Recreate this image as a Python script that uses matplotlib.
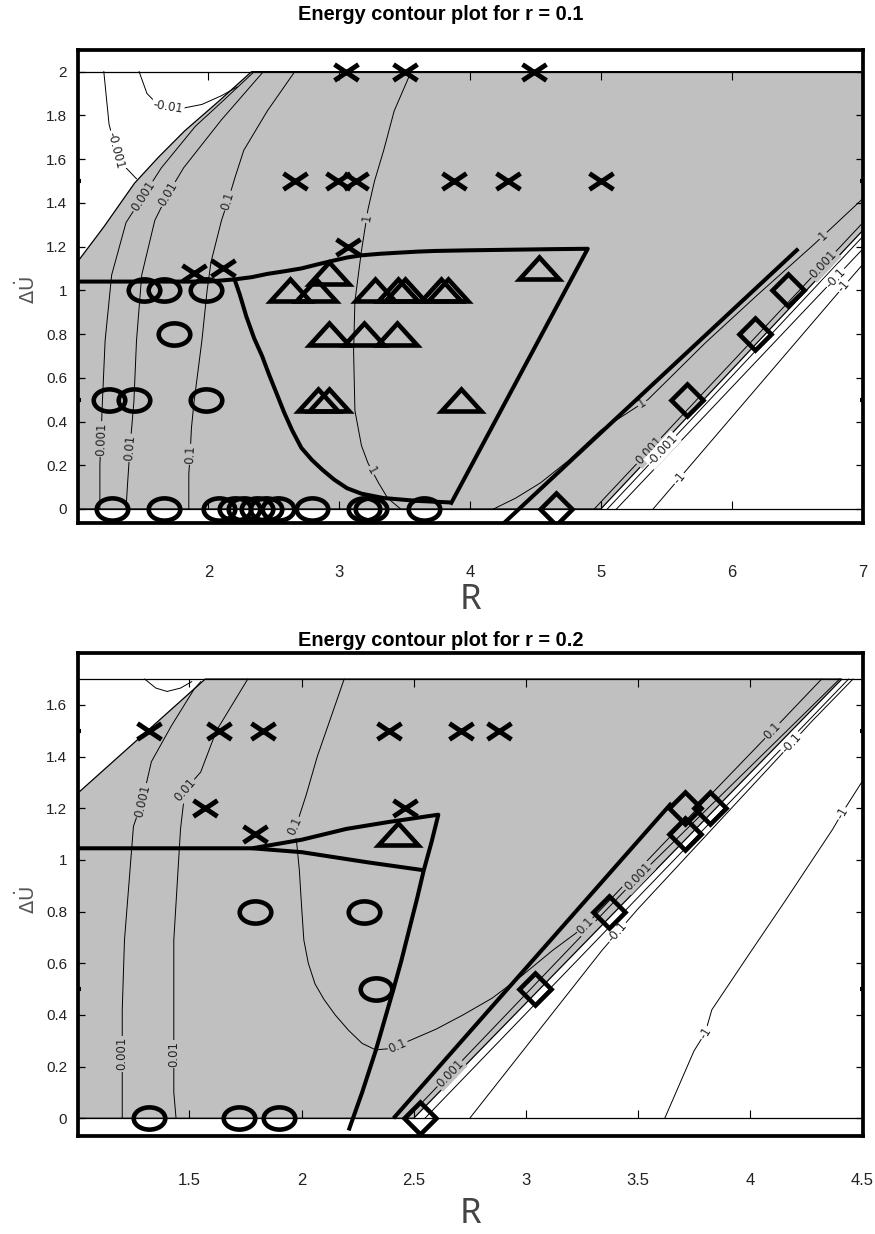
import matplotlib.pyplot as plt
import numpy as np
from matplotlib.markers import MarkerStyle
from matplotlib.path import Path
from matplotlib.transforms import Affine2D

plt.rcParams['font.family'] = ['Liberation Sans', 'DejaVu Sans']

GRAY = '#c0c0c0'

# ---------------- panel 1 : r = 0.1 ----------------
r1_title = 'Energy contour plot for r = 0.1'
r1_xlim = (1.005, 7.005)
r1_ylim = (-0.064, 2.099)
r1_ytop = 2.0
r1_xticks = [2, 3, 4, 5, 6, 7]
r1_xdots = [2, 4, 6]
r1_yticks = [0, 0.2, 0.4, 0.6, 0.8, 1.0, 1.2, 1.4, 1.6, 1.8, 2.0]

# grey region outline
r1_region_x = [1.005, 5.0, 7.005, 7.005, 2.33, 2.07, 1.82, 1.62, 1.435, 1.2, 1.005]
r1_region_y = [0.0, 0.0, 1.275, 2.0, 2.0, 1.86, 1.73, 1.61, 1.49, 1.29, 1.135]

# contour lines (value, points, label positions)
r1_c0001a_x = [2.35, 2.10, 1.90, 1.64, 1.50, 1.37, 1.26, 1.21, 1.19, 1.17, 1.17]
r1_c0001a_y = [2.0, 1.86, 1.75, 1.56, 1.43, 1.31, 1.07, 0.77, 0.50, 0.20, 0.0]
r1_c0001a_lab = [(1.50, 1.43), (1.18, 0.32)]
r1_c001_x = [2.42, 2.10, 1.81, 1.69, 1.59, 1.49, 1.45, 1.43, 1.40, 1.38, 1.37]
r1_c001_y = [2.0, 1.78, 1.56, 1.44, 1.32, 1.07, 0.77, 0.49, 0.28, 0.10, 0.0]
r1_c001_lab = [(1.69, 1.44), (1.40, 0.28)]
r1_c01_x = [2.66, 2.45, 2.27, 2.20, 2.15, 2.10, 2.02, 1.99, 1.95, 1.89, 1.87, 1.86, 1.85, 1.85]
r1_c01_y = [2.0, 1.82, 1.64, 1.51, 1.41, 1.32, 1.13, 1.0, 0.77, 0.49, 0.37, 0.25, 0.16, 0.0]
r1_c01_lab = [(2.15, 1.41), (1.86, 0.25)]
r1_c1a_x = [3.55, 3.42, 3.34, 3.27, 3.22, 3.17, 3.12, 3.11, 3.12, 3.17, 3.22, 3.30, 3.37, 3.47]
r1_c1a_y = [2.0, 1.82, 1.64, 1.50, 1.37, 1.18, 0.95, 0.72, 0.45, 0.29, 0.21, 0.12, 0.05, 0.0]
r1_c1a_lab = [(3.21, 1.33), (3.26, 0.18)]
r1_c1b_x = [4.18, 4.35, 4.54, 4.75, 5.0, 5.36, 5.8, 6.2, 6.63, 7.005]
r1_c1b_y = [0.0, 0.05, 0.12, 0.22, 0.36, 0.50, 0.76, 0.98, 1.21, 1.42]
r1_c1b_lab = [(5.33, 0.47), (6.70, 1.25)]
r1_cm0001a_x = [1.20, 1.22, 1.24, 1.30, 1.37, 1.45]
r1_cm0001a_y = [2.0, 1.88, 1.76, 1.62, 1.56, 1.51]
r1_cm0001a_lab = [(1.28, 1.64)]
r1_cm001_x = [1.47, 1.53, 1.62, 1.78, 1.95, 2.10, 2.22]
r1_cm001_y = [2.0, 1.90, 1.845, 1.83, 1.85, 1.89, 1.93]
r1_cm001_lab = [(1.69, 1.83)]
r1_c0001b_x = [4.95, 7.005]
r1_c0001b_y = [0.0, 1.31]
r1_c0001b_lab = [(5.36, 0.27), (6.70, 1.12)]
r1_cm0001b_x = [5.05, 7.005]
r1_cm0001b_y = [0.0, 1.247]
r1_cm0001b_lab = [(5.47, 0.27)]
r1_cm01_x = [5.12, 7.005]
r1_cm01_y = [0.0, 1.19]
r1_cm01_lab = [(6.79, 1.06)]
r1_cm1_x = [5.40, 6.76, 7.005]
r1_cm1_y = [0.0, 0.95, 1.12]
r1_cm1_lab = [(5.60, 0.14), (6.85, 1.02)]

# thick boundary lines
r1_t1_x = [1.005, 2.0, 2.2, 2.33, 2.45, 2.58, 2.71, 2.83, 2.95, 3.06, 3.17, 3.31, 3.45,
           3.6, 3.73, 4.0, 4.24, 4.6, 4.90, 3.85]
r1_t1_y = [1.04, 1.04, 1.05, 1.06, 1.075, 1.087, 1.10, 1.118, 1.135, 1.15, 1.16, 1.167,
           1.172, 1.177, 1.18, 1.183, 1.185, 1.188, 1.19, 0.02]
r1_t2_x = [2.2, 2.24, 2.29, 2.35, 2.41, 2.46, 2.52, 2.58, 2.64, 2.71, 2.79, 2.87, 2.96,
           3.06, 3.17, 3.34, 3.6, 3.85]
r1_t2_y = [1.05, 0.98, 0.88, 0.78, 0.70, 0.62, 0.53, 0.44, 0.36, 0.28, 0.225, 0.18, 0.135,
           0.095, 0.07, 0.05, 0.037, 0.03]
r1_t3_x = [4.26, 6.51]
r1_t3_y = [-0.064, 1.19]

# markers
r1_cross_x = [3.05, 3.50, 4.49, 2.66, 2.99, 3.13, 3.88, 4.29, 5.00, 3.07, 1.89, 2.11]
r1_cross_y = [2.0, 2.0, 2.0, 1.5, 1.5, 1.5, 1.5, 1.5, 1.5, 1.2, 1.08, 1.10]
r1_circ_x = [1.51, 1.66, 1.98, 1.74, 1.24, 1.43, 1.98, 1.26, 1.66, 2.08, 2.20, 2.27,
             2.37, 2.44, 2.53, 2.79, 3.19, 3.24, 3.65]
r1_circ_y = [1.0, 1.0, 1.0, 0.8, 0.5, 0.5, 0.5, 0, 0, 0, 0, 0, 0, 0, 0, 0, 0, 0, 0]
r1_tri_x = [2.62, 2.82, 2.92, 3.27, 3.45, 3.50, 3.78, 3.83, 4.53, 2.92, 3.19, 3.44, 2.84, 2.92, 3.93]
r1_tri_y = [1.0, 1.0, 1.08, 1.0, 1.0, 1.0, 1.0, 1.0, 1.1, 0.8, 0.8, 0.8, 0.5, 0.5, 0.5]
r1_dia_x = [4.66, 5.66, 6.18, 6.43]
r1_dia_y = [0.0, 0.5, 0.8, 1.0]

# ---------------- panel 2 : r = 0.2 ----------------
r2_title = 'Energy contour plot for r = 0.2'
r2_xlim = (1.004, 4.503)
r2_ylim = (-0.0685, 1.802)
r2_ytop = 1.7
r2_xticks = [1.5, 2, 2.5, 3, 3.5, 4, 4.5]
r2_xdots = [2, 3, 4]
r2_yticks = [0, 0.2, 0.4, 0.6, 0.8, 1.0, 1.2, 1.4, 1.6]

r2_region_x = [1.004, 2.50, 4.41, 1.57, 1.004]
r2_region_y = [0.0, 0.0, 1.7, 1.7, 1.26]

r2_c0001a_x = [1.55, 1.52, 1.42, 1.33, 1.29, 1.25, 1.21, 1.20, 1.20, 1.20, 1.20]
r2_c0001a_y = [1.69, 1.66, 1.52, 1.38, 1.23, 1.13, 0.69, 0.42, 0.25, 0.12, 0.0]
r2_c0001a_lab = [(1.29, 1.23), (1.19, 0.25)]
r2_c001_x = [1.76, 1.62, 1.55, 1.48, 1.46, 1.43, 1.43, 1.43, 1.43, 1.44]
r2_c001_y = [1.70, 1.50, 1.34, 1.27, 1.12, 0.69, 0.35, 0.25, 0.10, 0.0]
r2_c001_lab = [(1.48, 1.27), (1.43, 0.25)]
r2_c01_x = [2.19, 2.13, 2.07, 2.02, 1.99, 1.97, 1.98, 1.99, 2.00, 2.01, 2.03, 2.06, 2.10,
            2.15, 2.21, 2.27, 2.33, 2.40, 2.48, 2.60, 2.72, 2.85, 2.98, 3.12, 3.26,
            3.60, 3.90, 4.10, 4.32]
r2_c01_y = [1.70, 1.55, 1.40, 1.25, 1.17, 1.13, 1.05, 0.96, 0.82, 0.69, 0.60, 0.52, 0.46,
            0.40, 0.34, 0.29, 0.265, 0.27, 0.30, 0.345, 0.40, 0.465, 0.55, 0.65, 0.74,
            1.05, 1.32, 1.50, 1.70]
r2_c01_lab = [(1.97, 1.13), (2.43, 0.28), (3.26, 0.75), (4.10, 1.50)]
r2_c0001b_x = [2.47, 3.50, 4.40]
r2_c0001b_y = [0.0, 0.934, 1.70]
r2_c0001b_lab = [(2.66, 0.174), (3.50, 0.934)]
r2_cm0001_x = [2.55, 4.44]
r2_cm0001_y = [0.0, 1.70]
r2_cm01_x = [2.75, 3.34, 3.50, 4.11, 4.28, 4.46]
r2_cm01_y = [0.0, 0.65, 0.81, 1.38, 1.54, 1.70]
r2_cm01_lab = [(3.41, 0.72), (4.19, 1.45)]
r2_cm1_x = [3.62, 3.75, 3.80, 3.83, 4.00, 4.16, 4.37, 4.41, 4.52]
r2_cm1_y = [0.0, 0.26, 0.33, 0.42, 0.64, 0.845, 1.12, 1.18, 1.33]
r2_cm1_lab = [(3.80, 0.33), (4.41, 1.18)]
r2_loop_x = [1.30, 1.35, 1.40, 1.46, 1.51]
r2_loop_y = [1.70, 1.665, 1.652, 1.665, 1.69]

r2_t1_x = [1.004, 1.5, 1.78, 2.0, 2.2, 2.39, 2.61, 2.58, 2.545, 2.515, 2.48, 2.445, 2.41,
           2.37, 2.33, 2.27, 2.21]
r2_t1_y = [1.045, 1.045, 1.045, 1.078, 1.12, 1.147, 1.175, 1.07, 0.96, 0.85, 0.73, 0.61,
           0.50, 0.38, 0.26, 0.10, -0.047]
r2_t2_x = [1.78, 2.0, 2.3, 2.545]
r2_t2_y = [1.045, 1.03, 0.99, 0.96]
r2_t3_x = [2.41, 3.65]
r2_t3_y = [0.0, 1.22]

r2_cross_x = [1.32, 1.63, 1.83, 2.39, 2.71, 2.88, 1.57, 2.46, 1.79]
r2_cross_y = [1.5, 1.5, 1.5, 1.5, 1.5, 1.5, 1.2, 1.2, 1.1]
r2_circ_x = [1.79, 2.28, 2.33, 1.32, 1.72, 1.90]
r2_circ_y = [0.8, 0.8, 0.5, 0.0, 0.0, 0.0]
r2_tri_x = [2.43]
r2_tri_y = [1.10]
r2_dia_x = [2.53, 3.04, 3.37, 3.71, 3.82, 3.71]
r2_dia_y = [0.0, 0.5, 0.8, 1.2, 1.2, 1.1]


def stretched(m, sx):
    return MarkerStyle(m, transform=Affine2D().scale(sx, 1.0))


def put_label(ax, xs, ys, x, y, text, region):
    # snap the label onto the line and turn it along the line
    P = ax.transData.transform(np.column_stack([xs, ys]))
    q = ax.transData.transform((x, y))
    best = None
    for k in range(len(P) - 1):
        a, b = P[k], P[k + 1]
        ab = b - a
        t = np.clip(np.dot(q - a, ab) / np.dot(ab, ab), 0, 1)
        p = a + t * ab
        d = np.hypot(*(q - p))
        if best is None or d < best[0]:
            best = (d, p, ab)
    _, p, ab = best
    ang = np.degrees(np.arctan2(ab[1], ab[0]))
    if ang > 90:
        ang -= 180
    elif ang <= -90:
        ang += 180
    xd, yd = ax.transData.inverted().transform(p)
    bg = GRAY if region.contains_point((xd, yd)) else 'white'
    ax.text(xd, yd, text, rotation=ang, rotation_mode='anchor', ha='center', va='center',
            fontsize=8.5, family='DejaVu Sans', color='#222222', zorder=1.6,
            bbox=dict(boxstyle='square,pad=0.1', fc=bg, ec='none'))


def draw_panel(ax, xlim, ylim, ytop, xticks, xdots, yticks, region_x, region_y,
               contours, thick, crosses, circles, triangles, diamonds, xpad):
    ax.set_xlim(*xlim)
    ax.set_ylim(*ylim)
    region = Path(np.column_stack([region_x, region_y]))
    ax.fill(region_x, region_y, facecolor=GRAY, edgecolor='k', lw=0.9, zorder=0)

    # inner frame with its own ticks
    ax.axhline(0, color='k', lw=0.9, zorder=1.5)
    ax.axhline(ytop, color='k', lw=0.9, zorder=1.5)
    tl = 8 / ax.bbox.height * (ylim[1] - ylim[0])
    ax.vlines(xticks, 0, tl, color='k', lw=0.8, zorder=1.5)
    ax.vlines(xticks, ytop - tl, ytop, color='k', lw=0.8, zorder=1.5)

    for xs, ys, txt, labs in contours:
        ax.plot(xs, ys, color='k', lw=0.7, zorder=1.2)
        for lx, ly in labs:
            put_label(ax, xs, ys, lx, ly, txt, region)

    for xs, ys in thick:
        ax.plot(xs, ys, color='k', lw=2.9, zorder=3, solid_joinstyle='round',
                solid_capstyle='butt')

    ax.plot(*crosses, ls='none', marker=stretched('x', 1.45), ms=11.5, color='k',
            mew=3.5, zorder=4)
    ax.plot(*circles, ls='none', marker=stretched('o', 1.42), ms=16, mfc='none',
            mec='k', mew=3.3, zorder=4)
    ax.plot(*triangles, ls='none', marker=stretched('^', 1.8), ms=16, mfc='none',
            mec='k', mew=3.3, zorder=4)
    ax.plot(*diamonds, ls='none', marker='D', ms=16, mfc='none', mec='k', mew=3.3,
            zorder=4)

    for s in ax.spines.values():
        s.set_linewidth(2.7)
    ax.set_xticks(xticks)
    ax.set_xticklabels([f'{v:g}' for v in xticks])
    ax.set_xticks(xdots, minor=True)
    ax.set_yticks(yticks)
    ax.set_yticklabels([f'{v:g}' for v in yticks])
    ax.set_yticks([0.5, 1.0, 1.5], minor=True)
    ax.tick_params(axis='x', which='major', length=0, pad=xpad, labelsize=12,
                   labelcolor='#222222')
    ax.tick_params(axis='x', which='minor', length=2.5, width=3, direction='in',
                   top=True, bottom=True)
    ax.tick_params(axis='y', which='major', length=5, width=0.9, direction='in',
                   left=True, right=True, pad=8, labelsize=11, labelcolor='#222222')
    ax.tick_params(axis='y', which='minor', length=2.5, width=3, direction='in',
                   left=True, right=True)


fig = plt.figure(figsize=(8.75, 12.34), dpi=100)
ax1 = fig.add_axes([0.08949, 0.57618, 0.8968, 0.38331])
ax2 = fig.add_axes([0.08949, 0.07942, 0.89646, 0.39166])

r1_contours = [
    (r1_c0001a_x, r1_c0001a_y, '0.001', r1_c0001a_lab),
    (r1_c001_x, r1_c001_y, '0.01', r1_c001_lab),
    (r1_c01_x, r1_c01_y, '0.1', r1_c01_lab),
    (r1_c1a_x, r1_c1a_y, '1', r1_c1a_lab),
    (r1_c1b_x, r1_c1b_y, '1', r1_c1b_lab),
    (r1_cm0001a_x, r1_cm0001a_y, '-0.001', r1_cm0001a_lab),
    (r1_cm001_x, r1_cm001_y, '-0.01', r1_cm001_lab),
    (r1_c0001b_x, r1_c0001b_y, '0.001', r1_c0001b_lab),
    (r1_cm0001b_x, r1_cm0001b_y, '-0.001', r1_cm0001b_lab),
    (r1_cm01_x, r1_cm01_y, '-0.1', r1_cm01_lab),
    (r1_cm1_x, r1_cm1_y, '-1', r1_cm1_lab),
]
draw_panel(ax1, r1_xlim, r1_ylim, r1_ytop, r1_xticks, r1_xdots, r1_yticks,
           r1_region_x, r1_region_y, r1_contours,
           [(r1_t1_x, r1_t1_y), (r1_t2_x, r1_t2_y), (r1_t3_x, r1_t3_y)],
           (r1_cross_x, r1_cross_y), (r1_circ_x, r1_circ_y),
           (r1_tri_x, r1_tri_y), (r1_dia_x, r1_dia_y), xpad=30)

r2_contours = [
    (r2_c0001a_x, r2_c0001a_y, '0.001', r2_c0001a_lab),
    (r2_c001_x, r2_c001_y, '0.01', r2_c001_lab),
    (r2_c01_x, r2_c01_y, '0.1', r2_c01_lab),
    (r2_c0001b_x, r2_c0001b_y, '0.001', r2_c0001b_lab),
    (r2_cm0001_x, r2_cm0001_y, '', []),
    (r2_cm01_x, r2_cm01_y, '-0.1', r2_cm01_lab),
    (r2_cm1_x, r2_cm1_y, '-1', r2_cm1_lab),
    (r2_loop_x, r2_loop_y, '', []),
]
draw_panel(ax2, r2_xlim, r2_ylim, r2_ytop, r2_xticks, r2_xdots, r2_yticks,
           r2_region_x, r2_region_y, r2_contours,
           [(r2_t1_x, r2_t1_y), (r2_t2_x, r2_t2_y), (r2_t3_x, r2_t3_y)],
           (r2_cross_x, r2_cross_y), (r2_circ_x, r2_circ_y),
           (r2_tri_x, r2_tri_y), (r2_dia_x, r2_dia_y), xpad=26.5)

# titles and axis names
fig.text(441 / 875, 1 - 20.5 / 1234, r1_title, ha='center', va='baseline',
         fontsize=14.4, fontweight='bold')
fig.text(441 / 875, 1 - 646 / 1234, r2_title, ha='center', va='baseline',
         fontsize=14.4, fontweight='bold')
for yc in (290, 900):
    fig.text(27 / 875, 1 - yc / 1234, r'$\Delta\dot{\mathrm{U}}$', rotation=90,
             ha='center', va='center', fontsize=14, color='#555555')
for yc in (600, 1214):
    fig.text(470 / 875, 1 - yc / 1234, 'R', ha='center', va='center',
             fontsize=25, family='Noto Sans', color='#444444')

fig.savefig('out.png', dpi=100)
